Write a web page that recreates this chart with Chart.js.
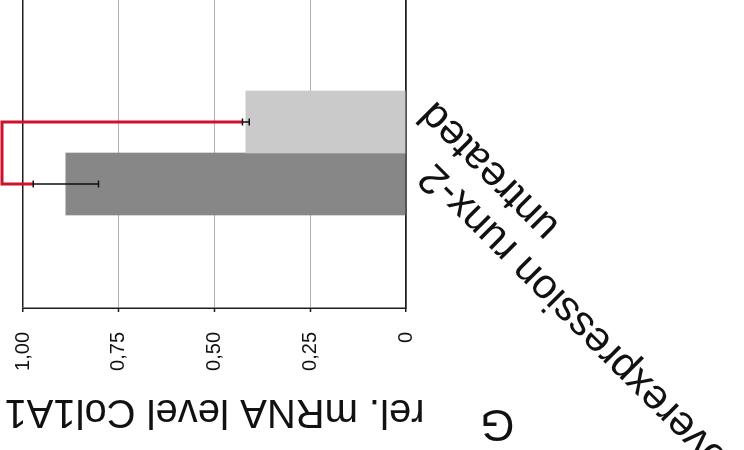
<!DOCTYPE html>
<html>
<head>
<meta charset="utf-8">
<script src="https://cdn.jsdelivr.net/npm/chart.js@4.4.1/dist/chart.umd.min.js"></script>
<style>
  html, body { margin: 0; padding: 0; background: #fff; overflow: hidden; }
  body { width: 744px; height: 450px; position: relative; }
  /* the figure is drawn upright, then turned a quarter left like the scan */
  #wrap {
    position: absolute; left: 0; top: 0;
    width: 470px; height: 744px;
    transform-origin: 0 0;
    transform: translate(0, 450px) rotate(-90deg);
  }
</style>
</head>
<body>
<div id="wrap"><canvas id="chart" width="470" height="744"></canvas></div>
<script>
const categories = ["overexpression runx-2", "untreated"];
const values = [0.888, 0.418];
const errors = [0.085, 0.009];
const barColors = ["#868786", "#c9cac9"];
const yTickValues = [0, 0.25, 0.5, 0.75, 1];
const yTickLabels = ["0", "0,25", "0,50", "0,75", "1,00"];
const bracketTop = 1.055;
const axisTitle = "rel. mRNA level Col1A1";
const panelLabel = "G";

const FONT = "'Liberation Sans', Arial, sans-serif";
const DARK = "#1e1e1e";

const errorBars = {
    id: "errorBars",
    afterDatasetsDraw(chart) {
        const { ctx, scales: { x, y } } = chart;
        const px = values.map((v, i) => x.getPixelForValue(i + 1));
        const top = values.map((v, i) => y.getPixelForValue(v + errors[i]));

        // significance bracket
        ctx.save();
        ctx.strokeStyle = "#d0112b";
        ctx.lineWidth = 3;
        ctx.beginPath();
        ctx.moveTo(px[0], top[0]);
        ctx.lineTo(px[0], y.getPixelForValue(bracketTop));
        ctx.lineTo(px[1], y.getPixelForValue(bracketTop));
        ctx.lineTo(px[1], top[1]);
        ctx.stroke();

        ctx.strokeStyle = "#111";
        ctx.lineWidth = 1.5;
        values.forEach((v, i) => {
            const lo = y.getPixelForValue(v - errors[i]);
            const hi = top[i];
            ctx.beginPath();
            ctx.moveTo(px[i], lo);
            ctx.lineTo(px[i], hi);
            ctx.moveTo(px[i] - 3.5, lo);
            ctx.lineTo(px[i] + 3.5, lo);
            ctx.moveTo(px[i] - 3.5, hi);
            ctx.lineTo(px[i] + 3.5, hi);
            ctx.stroke();
        });
        ctx.restore();
    }
};

const panelLetter = {
    id: "panelLetter",
    afterDraw(chart) {
        const { ctx } = chart;
        ctx.save();
        ctx.translate(27.5, 497.5);
        ctx.rotate(-Math.PI / 2);
        ctx.font = "44px " + FONT;
        ctx.fillStyle = "#111";
        ctx.textAlign = "center";
        ctx.textBaseline = "middle";
        ctx.fillText(panelLabel, 0, 0);
        ctx.restore();
    }
};

new Chart(document.getElementById("chart"), {
    type: "bar",
    data: {
        datasets: [{
            data: categories.map((c, i) => ({ x: i + 1, y: values[i] })),
            backgroundColor: barColors,
            borderWidth: 0,
            barPercentage: 1,
            categoryPercentage: 1
        }]
    },
    options: {
        responsive: false,
        animation: false,
        events: [],
        layout: { padding: { top: 23, right: 18, bottom: 0, left: 0 } },
        plugins: {
            legend: { display: false },
            tooltip: { enabled: false }
        },
        scales: {
            x: {
                type: "linear",
                offset: false,
                min: -1,
                max: 4,
                grid: { display: false, drawTicks: false },
                border: { display: true, color: DARK, width: 1.5 },
                afterBuildTicks: s => { s.ticks = categories.map((c, i) => ({ value: i + 1 })); },
                afterFit: s => { s.height = 338; s.paddingLeft = 0; s.paddingRight = 0; },
                ticks: {
                    autoSkip: false,
                    minRotation: 45,
                    maxRotation: 45,
                    padding: 3,
                    labelOffset: c => c.index === 1 ? 20 : 14,
                    color: "#111",
                    font: { family: FONT, size: 42 },
                    callback: v => categories[v - 1]
                }
            },
            y: {
                min: 0,
                max: 1,
                afterBuildTicks: s => { s.ticks = yTickValues.map(v => ({ value: v })); },
                afterFit: s => { s.width = 142; s.paddingTop = 0; s.paddingBottom = 0; },
                grid: {
                    color: c => (c.tick.value === 0 || c.tick.value === 1) ? DARK : "#b0b0b0",
                    lineWidth: c => (c.tick.value === 0 || c.tick.value === 1) ? 1.5 : 1,
                    tickColor: DARK,
                    tickWidth: 1.5,
                    tickLength: 4
                },
                border: { color: DARK, width: 1.5 },
                ticks: {
                    padding: 20,
                    color: "#111",
                    font: { family: FONT, size: 20 },
                    callback: (v, i) => yTickLabels[i]
                },
                title: {
                    display: true,
                    text: axisTitle,
                    color: "#111",
                    font: { family: FONT, size: 40 },
                    padding: { top: 15, bottom: 0 }
                }
            }
        }
    },
    plugins: [errorBars, panelLetter]
});
</script>
</body>
</html>
